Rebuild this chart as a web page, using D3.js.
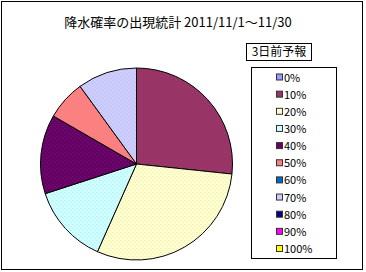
<!DOCTYPE html>
<html>
<head>
<meta charset="utf-8">
<script src="https://cdn.jsdelivr.net/npm/d3@7"></script>
<style>
  body { margin: 0; background: #fff; }
  text { font-family: "Noto Sans CJK JP", sans-serif; }
</style>
</head>
<body>
<div id="chart"></div>
<script>
// days in Nov 2011 per forecast probability
const categories = ["0%", "10%", "20%", "30%", "40%", "50%", "60%", "70%", "80%", "90%", "100%"];
const days = [0, 8, 9, 4, 4, 2, 0, 3, 0, 0, 0];
const colors = ["#9999FF", "#993366", "#FFFFCC", "#CCFFFF", "#660066", "#FF8080",
                "#0066CC", "#CCCCFF", "#000080", "#FF00FF", "#FFFF00"];
const titleText = "降水確率の出現統計 2011/11/1～11/30";
const legendTitle = "3日前予報";

const width = 366, height = 272;
const cx = 136.5, cy = 164, radius = 96;

const svg = d3.select("#chart").append("svg")
    .attr("width", width)
    .attr("height", height);

// dotted texture
const defs = svg.append("defs");
const pat = defs.append("pattern")
    .attr("id", "dots")
    .attr("width", 4).attr("height", 4)
    .attr("patternUnits", "userSpaceOnUse");
pat.append("rect").attr("x", 0).attr("y", 0).attr("width", 1).attr("height", 1)
    .attr("fill", "#888").attr("opacity", 0.2);
pat.append("rect").attr("x", 2).attr("y", 2).attr("width", 1).attr("height", 1)
    .attr("fill", "#888").attr("opacity", 0.2);

// outer frame
svg.append("rect")
    .attr("x", 1.5).attr("y", 1.5)
    .attr("width", 361).attr("height", 268)
    .attr("fill", "#fff")
    .attr("stroke", "#000");

svg.append("text")
    .attr("x", 178)
    .attr("y", 27)
    .attr("text-anchor", "middle")
    .attr("font-size", 13)
    .text(titleText);

const color = d3.scaleOrdinal().domain(categories).range(colors);

const pie = d3.pie().sort(null).value(d => d.v);
const arc = d3.arc().innerRadius(0).outerRadius(radius);
const data = pie(categories.map((c, i) => ({ c: c, v: days[i] })));

const g = svg.append("g").attr("transform", `translate(${cx},${cy})`);

g.selectAll(".slice")
    .data(data.filter(d => d.data.v > 0))
    .enter()
    .append("path")
    .attr("class", "slice")
    .attr("d", arc)
    .attr("fill", d => color(d.data.c))
    .attr("stroke", "#000")
    .attr("stroke-width", 1);

g.selectAll(".tex")
    .data(data.filter(d => d.data.v > 0))
    .enter()
    .append("path")
    .attr("class", "tex")
    .attr("d", arc)
    .attr("fill", "url(#dots)")
    .attr("stroke", "none");

// legend title box
svg.append("rect")
    .attr("x", 246.5).attr("y", 43.5)
    .attr("width", 65).attr("height", 17)
    .attr("fill", "#fff").attr("stroke", "#000");
svg.append("text")
    .attr("x", 279)
    .attr("y", 56)
    .attr("text-anchor", "middle")
    .attr("font-size", 12)
    .text(legendTitle);

// legend
svg.append("rect")
    .attr("x", 251.5).attr("y", 67.5)
    .attr("width", 85).attr("height", 191)
    .attr("fill", "#fff").attr("stroke", "#000");

const ly = d3.scalePoint().domain(categories).range([77.5, 249]);

const items = svg.selectAll(".legend")
    .data(categories)
    .enter()
    .append("g")
    .attr("class", "legend")
    .attr("transform", d => `translate(276,${ly(d)})`);

items.append("rect")
    .attr("x", 0.5).attr("y", -3.5)
    .attr("width", 6).attr("height", 6)
    .attr("fill", d => color(d))
    .attr("stroke", "#333");

items.append("text")
    .attr("x", 8)
    .attr("y", 4)
    .attr("font-size", 11)
    .text(d => d);
</script>
</body>
</html>
